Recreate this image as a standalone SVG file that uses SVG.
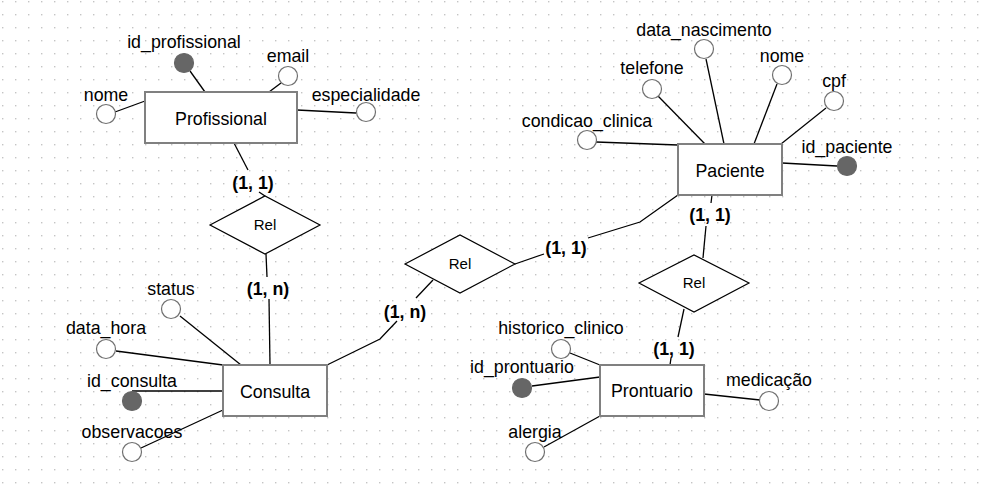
<svg xmlns="http://www.w3.org/2000/svg" width="988" height="487" viewBox="0 0 988 487">
<defs>
<pattern id="grid" x="0" y="0" width="13" height="13" patternUnits="userSpaceOnUse">
<rect x="2" y="1" width="1.4" height="1.4" fill="#c4c4c4"/>
</pattern>
<style>
.ent{fill:#fff;stroke:#808080;stroke-width:2}
.rel{fill:#fff;stroke:#000;stroke-width:1.2}
.att{fill:#fff;stroke:#707070;stroke-width:1.2}
.key{fill:#666;stroke:#666;stroke-width:1.2}
.ln{stroke:#000;stroke-width:1.3;fill:none}
text{font-family:"Liberation Sans",Arial,sans-serif;fill:#000}
.lbl{font-size:17.8px;text-anchor:middle}
.ename{font-size:17.8px;text-anchor:middle}
.rname{font-size:15px;text-anchor:middle}
.card{font-size:17.8px;font-weight:bold;text-anchor:middle}
</style>
</defs>
<rect width="988" height="487" fill="#fff"/>
<rect width="988" height="487" fill="url(#grid)"/>

<g id="connectors">
<!-- Profissional attributes -->
<line class="ln" x1="190" y1="71" x2="205" y2="92"/>
<line class="ln" x1="281" y1="83" x2="269" y2="92"/>
<line class="ln" x1="115" y1="112" x2="145" y2="101"/>
<line class="ln" x1="297" y1="110" x2="356" y2="113"/>
<!-- Profissional - Rel1 -->
<line class="ln" x1="234" y1="143" x2="248" y2="170"/>
<line class="ln" x1="259" y1="192" x2="265" y2="196"/>
<!-- Rel1 - Consulta -->
<line class="ln" x1="266" y1="254" x2="267" y2="277"/>
<line class="ln" x1="269" y1="299" x2="270" y2="365"/>
<!-- Consulta attributes -->
<line class="ln" x1="180" y1="316" x2="241" y2="365"/>
<line class="ln" x1="116" y1="351" x2="223" y2="365"/>
<line class="ln" x1="132" y1="391" x2="223" y2="391"/>
<line class="ln" x1="141" y1="448" x2="223" y2="410"/>
<!-- Consulta - Rel2 -->
<polyline class="ln" points="327,365 380,339 397,321"/>
<line class="ln" x1="416" y1="298" x2="433" y2="280"/>
<!-- Rel2 - Paciente -->
<line class="ln" x1="515" y1="264" x2="544" y2="254"/>
<polyline class="ln" points="588,238 640,222 678,195"/>
<!-- Paciente attributes -->
<line class="ln" x1="706" y1="59" x2="724" y2="144"/>
<line class="ln" x1="658" y1="96" x2="705" y2="144"/>
<line class="ln" x1="777" y1="84" x2="754" y2="144"/>
<line class="ln" x1="826" y1="108" x2="781" y2="144"/>
<line class="ln" x1="596" y1="142" x2="678" y2="145"/>
<line class="ln" x1="782" y1="163" x2="837" y2="166"/>
<!-- Paciente - Rel3 -->
<line class="ln" x1="712" y1="195" x2="711" y2="203"/>
<line class="ln" x1="706" y1="226" x2="703" y2="258"/>
<!-- Rel3 - Prontuario -->
<line class="ln" x1="684" y1="309" x2="678" y2="337"/>
<line class="ln" x1="671" y1="358" x2="670" y2="365"/>
<!-- Prontuario attributes -->
<line class="ln" x1="570" y1="353" x2="600" y2="365"/>
<line class="ln" x1="532" y1="386" x2="600" y2="377"/>
<line class="ln" x1="544" y1="447" x2="600" y2="416"/>
<line class="ln" x1="704" y1="394" x2="760" y2="400"/>
<!-- cardinalities -->
<text class="card" x="253" y="189">(1, 1)</text>
<text class="card" x="268" y="295">(1, n)</text>
<text class="card" x="405" y="318">(1, n)</text>
<text class="card" x="566" y="254">(1, 1)</text>
<text class="card" x="710" y="221">(1, 1)</text>
<text class="card" x="674" y="355">(1, 1)</text>
</g>

<g id="profissional">
<rect class="ent" x="145" y="92" width="152" height="51"/>
<text class="ename" x="221" y="125">Profissional</text>
</g>
<g id="prof_id">
<circle class="key" cx="184" cy="63" r="9.5"/>
<text class="lbl" x="184" y="48">id_profissional</text>
</g>
<g id="prof_email">
<circle class="att" cx="288" cy="76" r="9.5"/>
<text class="lbl" x="288" y="62">email</text>
</g>
<g id="prof_nome">
<circle class="att" cx="106" cy="114" r="9.5"/>
<text class="lbl" x="106" y="101">nome</text>
</g>
<g id="prof_especialidade">
<circle class="att" cx="366" cy="112" r="9.5"/>
<text class="lbl" x="366" y="101">especialidade</text>
</g>

<g id="rel1">
<polygon class="rel" points="210,225 265,196 320,225 265,254"/>
<text class="rname" x="265" y="230">Rel</text>
</g>

<g id="consulta">
<rect class="ent" x="223" y="365" width="104" height="51"/>
<text class="ename" x="275" y="398">Consulta</text>
</g>
<g id="cons_status">
<circle class="att" cx="171" cy="309" r="9.5"/>
<text class="lbl" x="171" y="295">status</text>
</g>
<g id="cons_data_hora">
<circle class="att" cx="106" cy="349" r="9.5"/>
<text class="lbl" x="106" y="334">data_hora</text>
</g>
<g id="cons_id">
<circle class="key" cx="132" cy="401" r="9.5"/>
<text class="lbl" x="132" y="387">id_consulta</text>
</g>
<g id="cons_observacoes">
<circle class="att" cx="132" cy="452" r="9.5"/>
<text class="lbl" x="132" y="438">observacoes</text>
</g>

<g id="rel2">
<polygon class="rel" points="405,264 460,235 515,264 460,293"/>
<text class="rname" x="460" y="269">Rel</text>
</g>

<g id="paciente">
<rect class="ent" x="678" y="144" width="104" height="51"/>
<text class="ename" x="730" y="177">Paciente</text>
</g>
<g id="pac_data_nascimento">
<circle class="att" cx="704" cy="49" r="9.5"/>
<text class="lbl" x="704" y="36">data_nascimento</text>
</g>
<g id="pac_telefone">
<circle class="att" cx="652" cy="89" r="9.5"/>
<text class="lbl" x="652" y="74">telefone</text>
</g>
<g id="pac_nome">
<circle class="att" cx="782" cy="75" r="9.5"/>
<text class="lbl" x="782" y="62">nome</text>
</g>
<g id="pac_cpf">
<circle class="att" cx="834" cy="101" r="9.5"/>
<text class="lbl" x="834" y="87">cpf</text>
</g>
<g id="pac_condicao_clinica">
<circle class="att" cx="587" cy="140" r="9.5"/>
<text class="lbl" x="587" y="127">condicao_clinica</text>
</g>
<g id="pac_id">
<circle class="key" cx="847" cy="166" r="9.5"/>
<text class="lbl" x="847" y="153">id_paciente</text>
</g>

<g id="rel3">
<polygon class="rel" points="639,283 694,255 749,283 694,312"/>
<text class="rname" x="694" y="288">Rel</text>
</g>

<g id="prontuario">
<rect class="ent" x="600" y="365" width="104" height="51"/>
<text class="ename" x="652" y="397">Prontuario</text>
</g>
<g id="pront_historico_clinico">
<circle class="att" cx="561" cy="349" r="9.5"/>
<text class="lbl" x="561" y="334">historico_clinico</text>
</g>
<g id="pront_id">
<circle class="key" cx="522" cy="388" r="9.5"/>
<text class="lbl" x="522" y="373">id_prontuario</text>
</g>
<g id="pront_alergia">
<circle class="att" cx="535" cy="452" r="9.5"/>
<text class="lbl" x="535" y="438">alergia</text>
</g>
<g id="pront_medicacao">
<circle class="att" cx="769" cy="401" r="9.5"/>
<text class="lbl" x="769" y="386">medicação</text>
</g>
</svg>
